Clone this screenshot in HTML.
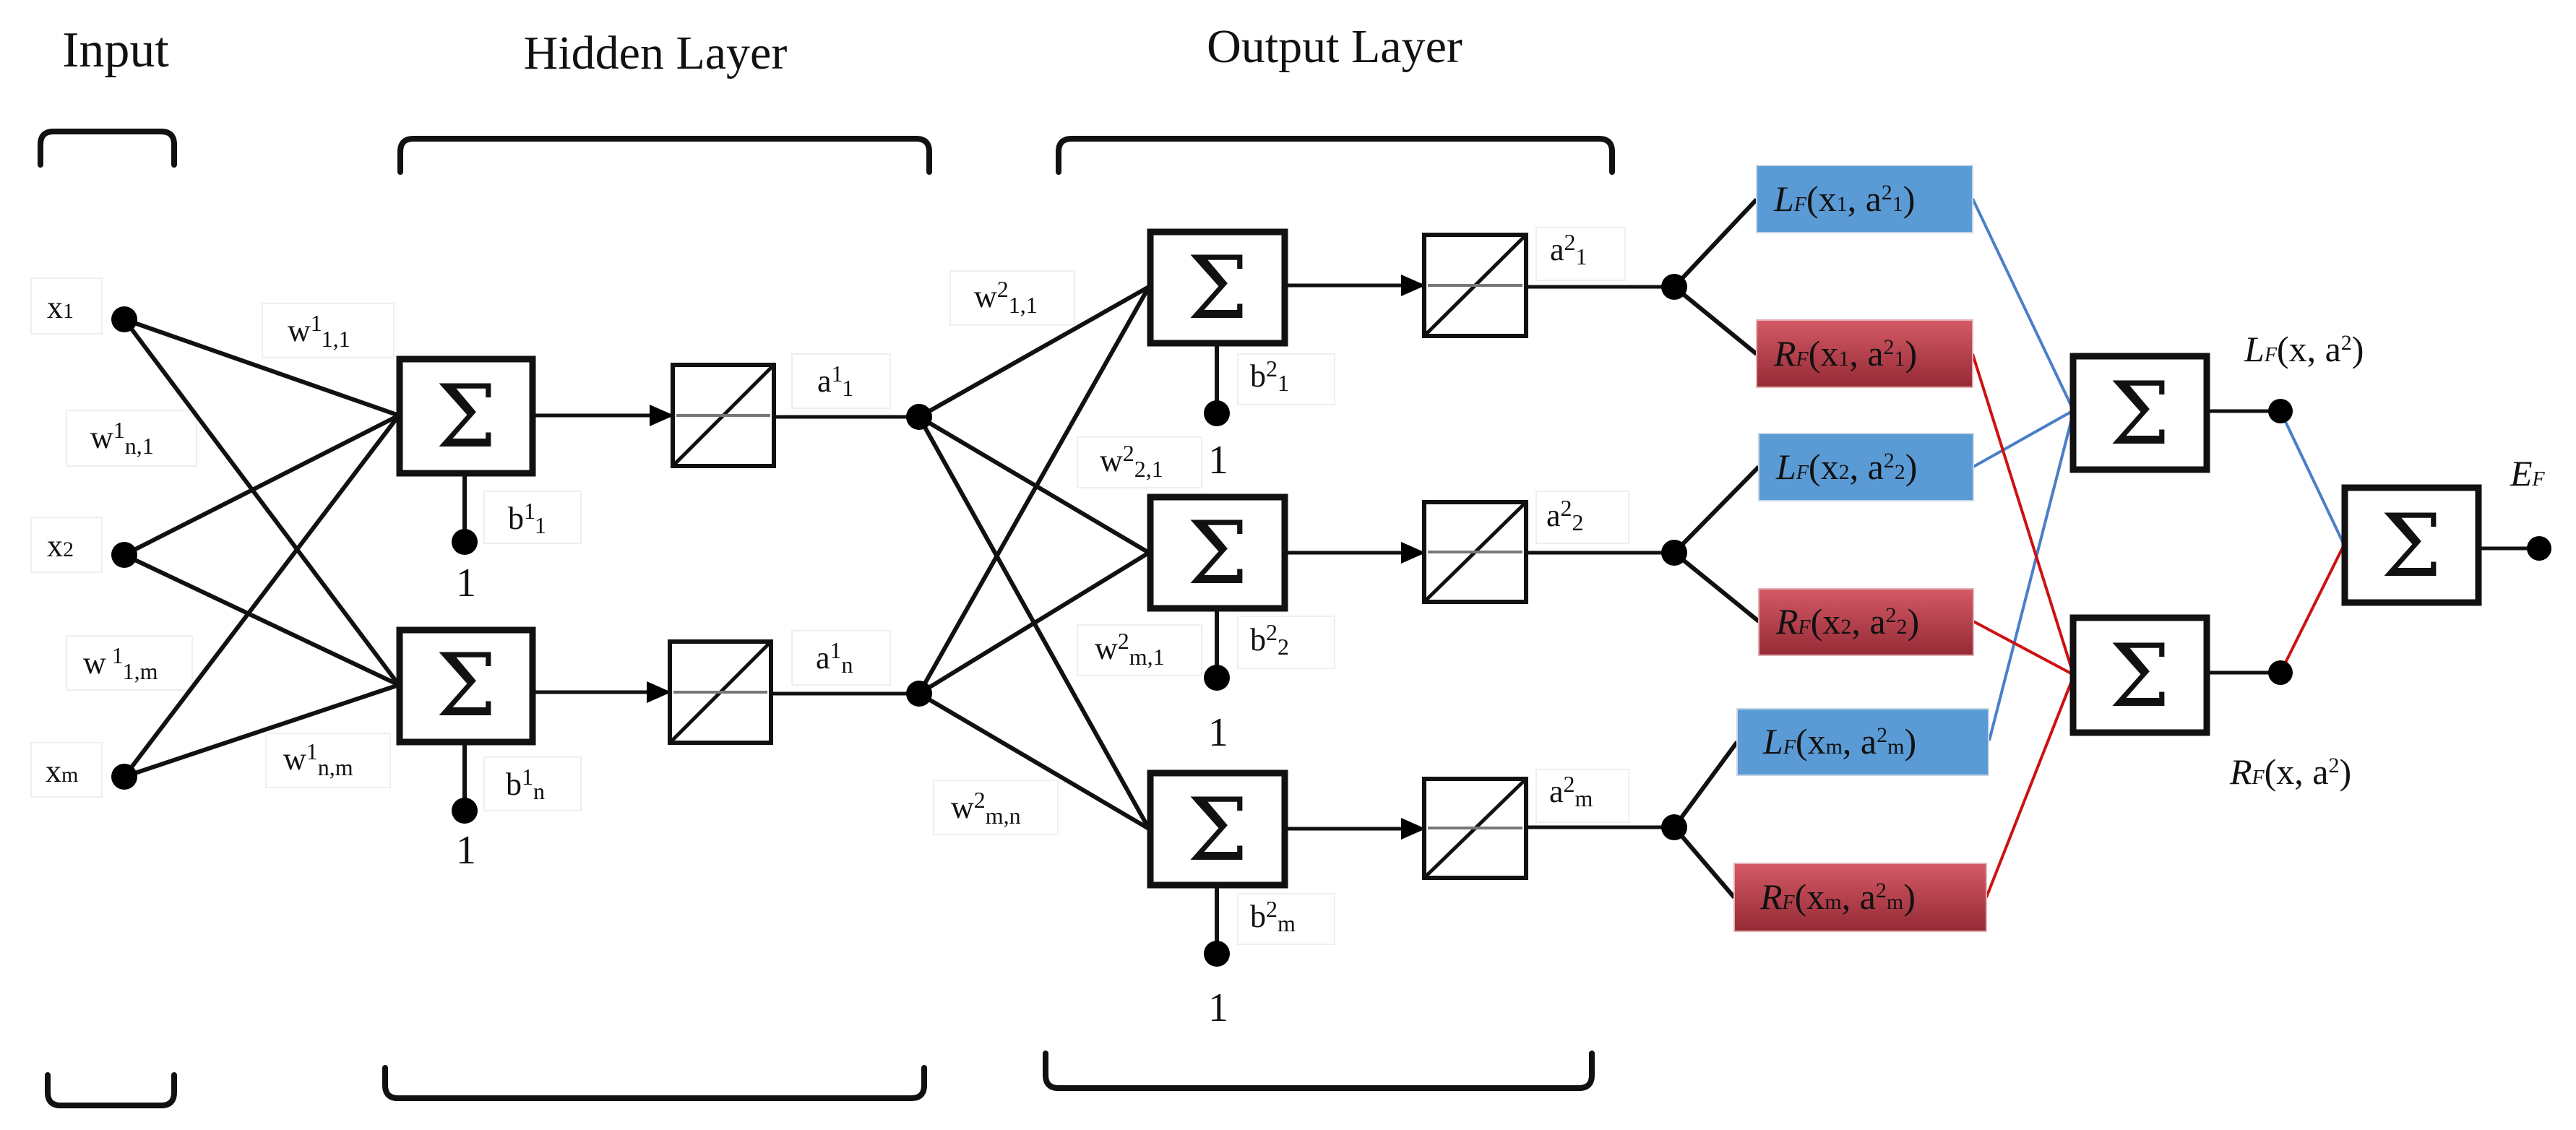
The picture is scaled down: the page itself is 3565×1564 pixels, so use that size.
<!DOCTYPE html>
<html><head><meta charset="utf-8"><style>
html,body{margin:0;padding:0;background:#fff;}
svg{display:block;}
text{font-family:"Liberation Serif","DejaVu Serif",serif;fill:#111;}
</style></head><body>
<svg width="3565" height="1564" viewBox="0 0 3565 1564" xmlns="http://www.w3.org/2000/svg">
<defs>
<linearGradient id="rg" x1="0" y1="0" x2="0" y2="1"><stop offset="0" stop-color="#d45a66"/><stop offset="1" stop-color="#952a35"/></linearGradient>
<marker id="ar" markerWidth="34" markerHeight="30" refX="32" refY="15" orient="auto" markerUnits="userSpaceOnUse" viewBox="0 0 34 30"><path d="M0,0 L34,15 L0,30 z" fill="#000"/></marker>
</defs>

<text x="160" y="92" font-size="70" text-anchor="middle">Input</text>
<text x="907" y="95" font-size="66" text-anchor="middle">Hidden Layer</text>
<text x="1847" y="86" font-size="66" text-anchor="middle">Output Layer</text>

<g fill="none" stroke="#111" stroke-width="8" stroke-linecap="round">
<path d="M56,228 V200 Q56,182 74,182 H223 Q241,182 241,200 V228"/>
<path d="M554,238 V210 Q554,192 572,192 H1268 Q1286,192 1286,210 V238"/>
<path d="M1465,238 V210 Q1465,192 1483,192 H2213 Q2231,192 2231,210 V238"/>
<path d="M66,1488 V1512 Q66,1530 84,1530 H223 Q241,1530 241,1512 V1488"/>
<path d="M533,1478 V1502 Q533,1520 551,1520 H1261 Q1279,1520 1279,1502 V1478"/>
<path d="M1447,1458 V1488 Q1447,1506 1465,1506 H2185 Q2203,1506 2203,1488 V1458"/>
</g>

<g fill="#fff" stroke="#efefef" stroke-width="2">
<rect x="43" y="385" width="98" height="77"/>
<rect x="43" y="716" width="98" height="76"/>
<rect x="43" y="1028" width="98" height="75"/>
<rect x="363" y="420" width="182" height="75"/>
<rect x="92" y="568" width="180" height="77"/>
<rect x="92" y="880" width="174" height="75"/>
<rect x="368" y="1015" width="172" height="75"/>
<rect x="670" y="680" width="134" height="72"/>
<rect x="670" y="1048" width="134" height="74"/>
<rect x="1096" y="490" width="136" height="75"/>
<rect x="1096" y="873" width="136" height="75"/>
<rect x="1315" y="375" width="172" height="75"/>
<rect x="1491" y="605" width="172" height="70"/>
<rect x="1491" y="865" width="172" height="70"/>
<rect x="1292" y="1080" width="172" height="75"/>
<rect x="1713" y="490" width="134" height="70"/>
<rect x="1713" y="853" width="134" height="72"/>
<rect x="1713" y="1237" width="134" height="70"/>
<rect x="2126" y="315" width="123" height="73"/>
<rect x="2126" y="680" width="128" height="72"/>
<rect x="2126" y="1065" width="128" height="73"/>
</g>

<g stroke="#111" stroke-width="6" fill="none">
<line x1="172" y1="442" x2="552" y2="575"/>
<line x1="172" y1="442" x2="552" y2="948"/>
<line x1="172" y1="768" x2="552" y2="575"/>
<line x1="172" y1="768" x2="552" y2="948"/>
<line x1="172" y1="1075" x2="552" y2="575"/>
<line x1="172" y1="1075" x2="552" y2="948"/>
<line x1="1272" y1="577" x2="1590" y2="397"/>
<line x1="1272" y1="577" x2="1590" y2="765"/>
<line x1="1272" y1="577" x2="1590" y2="1147"/>
<line x1="1272" y1="960" x2="1590" y2="397"/>
<line x1="1272" y1="960" x2="1590" y2="765"/>
<line x1="1272" y1="960" x2="1590" y2="1147"/>
<line x1="643" y1="655" x2="643" y2="750"/>
<line x1="643" y1="1027" x2="643" y2="1122"/>
<line x1="1684" y1="475" x2="1684" y2="572"/>
<line x1="1684" y1="842" x2="1684" y2="938"/>
<line x1="1684" y1="1225" x2="1684" y2="1320"/>
<line x1="737" y1="575" x2="931" y2="575" marker-end="url(#ar)" stroke-width="5"/>
<line x1="737" y1="958" x2="927" y2="958" marker-end="url(#ar)" stroke-width="5"/>
<line x1="1778" y1="395" x2="1971" y2="395" marker-end="url(#ar)" stroke-width="5"/>
<line x1="1778" y1="765" x2="1971" y2="765" marker-end="url(#ar)" stroke-width="5"/>
<line x1="1778" y1="1147" x2="1971" y2="1147" marker-end="url(#ar)" stroke-width="5"/>
<line x1="1071" y1="577" x2="1272" y2="577" stroke-width="5"/>
<line x1="1067" y1="960" x2="1272" y2="960" stroke-width="5"/>
<line x1="2112" y1="397" x2="2317" y2="397" stroke-width="5"/>
<line x1="2112" y1="765" x2="2317" y2="765" stroke-width="5"/>
<line x1="2112" y1="1145" x2="2317" y2="1145" stroke-width="5"/>
<line x1="2317" y1="397" x2="2431" y2="276"/>
<line x1="2317" y1="397" x2="2431" y2="490"/>
<line x1="2317" y1="765" x2="2434" y2="646"/>
<line x1="2317" y1="765" x2="2434" y2="860"/>
<line x1="2317" y1="1145" x2="2404" y2="1027"/>
<line x1="2317" y1="1145" x2="2400" y2="1242"/>
<line x1="3054" y1="569" x2="3156" y2="569" stroke-width="5"/>
<line x1="3054" y1="931" x2="3156" y2="931" stroke-width="5"/>
<line x1="3430" y1="759" x2="3514" y2="759" stroke-width="5"/>
</g>

<g stroke="#4a7fc8" stroke-width="4" fill="none">
<line x1="2730" y1="275" x2="2868" y2="565"/>
<line x1="2731" y1="646" x2="2868" y2="569"/>
<line x1="2753" y1="1025" x2="2868" y2="576"/>
<line x1="3156" y1="569" x2="3244" y2="754"/>
</g>
<g stroke="#cc1111" stroke-width="4" fill="none">
<line x1="2730" y1="490" x2="2868" y2="929"/>
<line x1="2731" y1="860" x2="2868" y2="933"/>
<line x1="2749" y1="1242" x2="2868" y2="940"/>
<line x1="3156" y1="931" x2="3244" y2="754"/>
</g>

<g fill="#000">
<circle cx="172" cy="442" r="18"/><circle cx="172" cy="768" r="18"/><circle cx="172" cy="1075" r="18"/>
<circle cx="643" cy="750" r="18"/><circle cx="643" cy="1122" r="18"/>
<circle cx="1272" cy="577" r="18"/><circle cx="1272" cy="960" r="18"/>
<circle cx="1684" cy="572" r="18"/><circle cx="1684" cy="938" r="18"/><circle cx="1684" cy="1320" r="18"/>
<circle cx="2317" cy="397" r="18"/><circle cx="2317" cy="765" r="18"/><circle cx="2317" cy="1145" r="18"/>
<circle cx="3156" cy="569" r="17"/><circle cx="3156" cy="931" r="17"/><circle cx="3514" cy="759" r="17"/>
</g>

<g fill="#fff" stroke="#111" stroke-width="9">
<rect x="553" y="497" width="184" height="158"/>
<rect x="553" y="872" width="184" height="155"/>
<rect x="1592" y="321" width="186" height="154"/>
<rect x="1592" y="688" width="186" height="154"/>
<rect x="1592" y="1070" width="186" height="155"/>
<rect x="2869" y="493" width="185" height="157"/>
<rect x="2869" y="855" width="185" height="159"/>
<rect x="3245" y="675" width="185" height="159"/>
</g>
<g font-size="120" text-anchor="middle">
<text x="645" y="618" style="font-family:'DejaVu Serif',serif">Σ</text>
<text x="645" y="990" style="font-family:'DejaVu Serif',serif">Σ</text>
<text x="1685" y="440" style="font-family:'DejaVu Serif',serif">Σ</text>
<text x="1685" y="807" style="font-family:'DejaVu Serif',serif">Σ</text>
<text x="1685" y="1190" style="font-family:'DejaVu Serif',serif">Σ</text>
<text x="2961" y="614" style="font-family:'DejaVu Serif',serif">Σ</text>
<text x="2961" y="977" style="font-family:'DejaVu Serif',serif">Σ</text>
<text x="3337" y="797" style="font-family:'DejaVu Serif',serif">Σ</text>
</g>

<g fill="#fff" stroke="#111" stroke-width="6">
<rect x="931" y="505" width="140" height="140"/>
<rect x="927" y="888" width="140" height="140"/>
<rect x="1971" y="325" width="141" height="140"/>
<rect x="1971" y="695" width="141" height="138"/>
<rect x="1971" y="1078" width="141" height="137"/>
</g>
<g stroke="#111" stroke-width="5">
<line x1="931" y1="645" x2="1071" y2="505"/><line x1="927" y1="1028" x2="1067" y2="888"/>
<line x1="1971" y1="465" x2="2112" y2="325"/><line x1="1971" y1="833" x2="2112" y2="695"/><line x1="1971" y1="1215" x2="2112" y2="1078"/>
</g>
<g stroke="#777" stroke-width="4">
<line x1="936" y1="575" x2="1066" y2="575"/><line x1="932" y1="958" x2="1062" y2="958"/>
<line x1="1976" y1="395" x2="2107" y2="395"/><line x1="1976" y1="764" x2="2107" y2="764"/><line x1="1976" y1="1146" x2="2107" y2="1146"/>
</g>

<g font-size="56" text-anchor="middle">
<text x="645" y="825">1</text><text x="645" y="1195">1</text>
<text x="1686" y="655">1</text><text x="1686" y="1032">1</text><text x="1686" y="1413">1</text>
</g>

<g font-size="44">
<text x="65" y="440">x<tspan font-size="30">1</tspan></text>
<text x="65" y="770">x<tspan font-size="30">2</tspan></text>
<text x="63" y="1082">x<tspan font-size="30">m</tspan></text>
<text x="398" y="472">w<tspan font-size="32" dy="-14">1</tspan><tspan font-size="32" dy="22">1,1</tspan></text>
<text x="125" y="620">w<tspan font-size="32" dy="-14">1</tspan><tspan font-size="32" dy="22">n,1</tspan></text>
<text x="115" y="932">w<tspan font-size="32" dy="-14"> 1</tspan><tspan font-size="32" dy="22">1,m</tspan></text>
<text x="392" y="1065">w<tspan font-size="32" dy="-14">1</tspan><tspan font-size="32" dy="22">n,m</tspan></text>
<text x="703" y="732">b<tspan font-size="32" dy="-14">1</tspan><tspan font-size="32" dy="20">1</tspan></text>
<text x="700" y="1100">b<tspan font-size="32" dy="-14">1</tspan><tspan font-size="32" dy="20">n</tspan></text>
<text x="1131" y="542">a<tspan font-size="32" dy="-14">1</tspan><tspan font-size="32" dy="20">1</tspan></text>
<text x="1129" y="925">a<tspan font-size="32" dy="-14">1</tspan><tspan font-size="32" dy="20">n</tspan></text>
<text x="1348" y="425">w<tspan font-size="32" dy="-14">2</tspan><tspan font-size="32" dy="22">1,1</tspan></text>
<text x="1522" y="652">w<tspan font-size="32" dy="-14">2</tspan><tspan font-size="32" dy="22">2,1</tspan></text>
<text x="1515" y="912">w<tspan font-size="32" dy="-14">2</tspan><tspan font-size="32" dy="22">m,1</tspan></text>
<text x="1316" y="1132">w<tspan font-size="32" dy="-14">2</tspan><tspan font-size="32" dy="22">m,n</tspan></text>
<text x="1730" y="535">b<tspan font-size="32" dy="-14">2</tspan><tspan font-size="32" dy="20">1</tspan></text>
<text x="1730" y="900">b<tspan font-size="32" dy="-14">2</tspan><tspan font-size="32" dy="20">2</tspan></text>
<text x="1730" y="1283">b<tspan font-size="32" dy="-14">2</tspan><tspan font-size="32" dy="20">m</tspan></text>
<text x="2145" y="360">a<tspan font-size="32" dy="-14">2</tspan><tspan font-size="32" dy="20">1</tspan></text>
<text x="2140" y="728">a<tspan font-size="32" dy="-14">2</tspan><tspan font-size="32" dy="20">2</tspan></text>
<text x="2144" y="1110">a<tspan font-size="32" dy="-14">2</tspan><tspan font-size="32" dy="20">m</tspan></text>
</g>

<g stroke="#c8d6e6" stroke-width="2">
<rect x="2431" y="229" width="299" height="93" fill="#5b9bd5"/>
<rect x="2434" y="600" width="297" height="93" fill="#5b9bd5"/>
<rect x="2404" y="981" width="348" height="92" fill="#5b9bd5"/>
</g>
<g stroke="#e4b0b4" stroke-width="2">
<rect x="2431" y="443" width="299" height="93" fill="url(#rg)"/>
<rect x="2434" y="815" width="297" height="92" fill="url(#rg)"/>
<rect x="2400" y="1195" width="349" height="94" fill="url(#rg)"/>
</g>
<g font-size="50">
<text x="2455" y="292"><tspan font-style="italic">L</tspan><tspan font-size="28" font-style="italic">F</tspan>(x<tspan font-size="30">1</tspan>, a<tspan font-size="30" dy="-16">2</tspan><tspan font-size="30" dy="16">1</tspan>)</text>
<text x="2455" y="506"><tspan font-style="italic">R</tspan><tspan font-size="28" font-style="italic">F</tspan>(x<tspan font-size="30">1</tspan>, a<tspan font-size="30" dy="-16">2</tspan><tspan font-size="30" dy="16">1</tspan>)</text>
<text x="2458" y="663"><tspan font-style="italic">L</tspan><tspan font-size="28" font-style="italic">F</tspan>(x<tspan font-size="30">2</tspan>, a<tspan font-size="30" dy="-16">2</tspan><tspan font-size="30" dy="16">2</tspan>)</text>
<text x="2458" y="877"><tspan font-style="italic">R</tspan><tspan font-size="28" font-style="italic">F</tspan>(x<tspan font-size="30">2</tspan>, a<tspan font-size="30" dy="-16">2</tspan><tspan font-size="30" dy="16">2</tspan>)</text>
<text x="2440" y="1043"><tspan font-style="italic">L</tspan><tspan font-size="28" font-style="italic">F</tspan>(x<tspan font-size="30">m</tspan>, a<tspan font-size="30" dy="-16">2</tspan><tspan font-size="30" dy="16">m</tspan>)</text>
<text x="2436" y="1258"><tspan font-style="italic">R</tspan><tspan font-size="28" font-style="italic">F</tspan>(x<tspan font-size="30">m</tspan>, a<tspan font-size="30" dy="-16">2</tspan><tspan font-size="30" dy="16">m</tspan>)</text>
<text x="3106" y="500"><tspan font-style="italic">L</tspan><tspan font-size="28" font-style="italic">F</tspan>(x, a<tspan font-size="30" dy="-16">2</tspan><tspan dy="16">)</tspan></text>
<text x="3086" y="1085"><tspan font-style="italic">R</tspan><tspan font-size="28" font-style="italic">F</tspan>(x, a<tspan font-size="30" dy="-16">2</tspan><tspan dy="16">)</tspan></text>
<text x="3474" y="672"><tspan font-style="italic">E</tspan><tspan font-size="28" font-style="italic">F</tspan></text>
</g>
</svg>
</body></html>
